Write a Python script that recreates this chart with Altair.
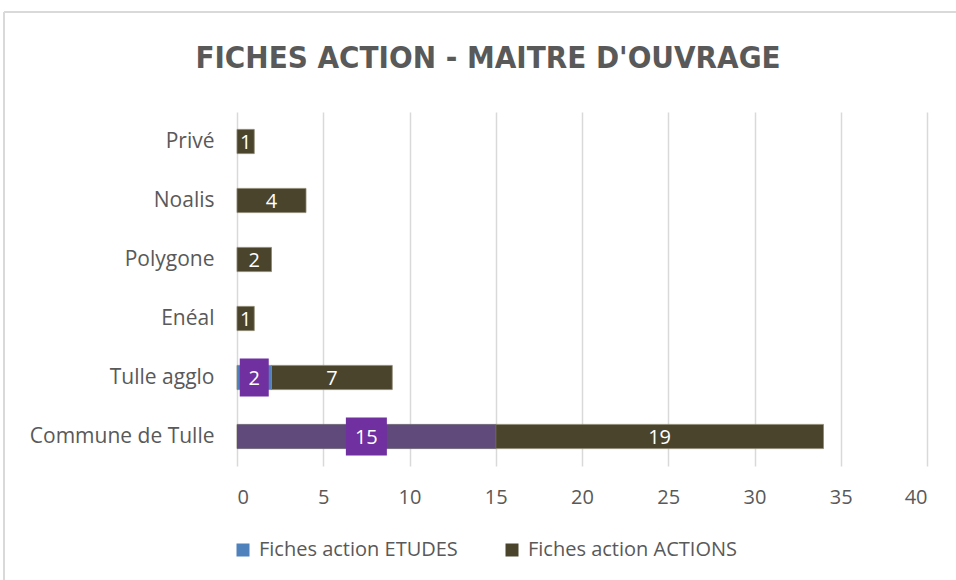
import altair as alt
import pandas as pd

categories = ["Privé", "Noalis", "Polygone", "Enéal", "Tulle agglo", "Commune de Tulle\u00a0"]
etudes = [0, 0, 0, 0, 2, 15]
actions = [1, 4, 2, 1, 7, 19]
series = ["Fiches action ETUDES", "Fiches action ACTIONS"]
x_ticks = [0, 5, 10, 15, 20, 25, 30, 35, 40]

rows = []
for c, e, a in zip(categories, etudes, actions):
    rows.append({"cat": c, "serie": series[0], "val": e, "ord": 0})
    rows.append({"cat": c, "serie": series[1], "val": a, "ord": 1})
df = pd.DataFrame(rows)

BLUE = "#4f81bd"
OLIVE = "#4a442d"
PURPLE_BAR = "#604a7b"
PURPLE_BOX = "#7030a0"
GREY = "#595959"
FONT = "Open Sans"

base = alt.Chart(df).transform_stack(
    stack="val", groupby=["cat"], as_=["x0", "x1"], sort=[alt.SortField("ord")]
).transform_filter("datum.val > 0").transform_calculate(mid="(datum.x0 + datum.x1) / 2")

yenc = alt.Y("cat:N", sort=categories, title=None,
             scale=alt.Scale(paddingInner=0.59, paddingOuter=0.295),
             axis=alt.Axis(domain=False, ticks=False, labelFontSize=21, labelColor=GREY,
                           labelFont=FONT, labelPadding=23, labelLimit=300))
xscale = alt.Scale(domain=[0, 40], nice=False)
xaxis = alt.Axis(values=x_ticks, domain=False, ticks=False, grid=True, gridColor="#d9d9d9",
                 gridWidth=1.5, labelFontSize=20, labelColor=GREY, labelFont=FONT,
                 labelPadding=21, title=None)

bars = base.mark_bar(stroke="#8c8770", strokeWidth=0.8).encode(
    x=alt.X("x0:Q", scale=xscale, axis=xaxis),
    x2="x1:Q",
    y=yenc,
    color=alt.Color("serie:N", scale=alt.Scale(domain=series, range=[BLUE, OLIVE]),
                    legend=alt.Legend(title=None, orient="none", direction="horizontal",
                                      legendX=-4, legendY=428, symbolType="square",
                                      symbolSize=169, symbolStrokeWidth=0,
                                      labelFontSize=20, labelColor=GREY, labelFont=FONT,
                                      labelOffset=6, columnPadding=44, labelLimit=400)),
)

purple = base.transform_filter(
    (alt.datum.cat == categories[5]) & (alt.datum.serie == series[0])
).mark_bar(color=PURPLE_BAR).encode(x="x0:Q", x2="x1:Q", y=alt.Y("cat:N", sort=categories))

et = base.transform_filter(alt.datum.serie == series[0])
box1 = et.transform_filter("datum.val < 10").mark_tick(
    color=PURPLE_BOX, thickness=29, size=38, opacity=1
).encode(x="mid:Q", y=alt.Y("cat:N", sort=categories))
box2 = et.transform_filter("datum.val >= 10").mark_tick(
    color=PURPLE_BOX, thickness=41, size=38, opacity=1
).encode(x="mid:Q", y=alt.Y("cat:N", sort=categories))

labels = base.mark_text(color="white", fontSize=20, font=FONT, baseline="middle", dy=1).encode(
    x="mid:Q", y=alt.Y("cat:N", sort=categories), text="val:Q"
)

border_top = alt.Chart(df).mark_rule(color="#d9d9d9", strokeWidth=1.5).encode(
    x=alt.value(-233), x2=alt.value(730), y=alt.value(-100)
)
border_left = alt.Chart(df).mark_rule(color="#d9d9d9", strokeWidth=1.5).encode(
    x=alt.value(-233), y=alt.value(-100), y2=alt.value(480)
)

chart = alt.layer(border_top, border_left, bars, purple, box1, box2, labels).properties(
    width=690, height=354,
    title=alt.TitleParams("FICHES ACTION - MAITRE D'OUVRAGE", font="DejaVu Sans Condensed",
                          fontSize=31, fontWeight="bold", color=GREY, anchor="middle",
                          baseline="alphabetic", dx=-94, offset=-88),
    padding={"left": 237, "top": 112, "right": 29, "bottom": 114},
    autosize=alt.AutoSizeParams(type="none"),
).configure_view(stroke=None)

chart.save("out.html", embed_options={"renderer": "svg", "actions": False})
